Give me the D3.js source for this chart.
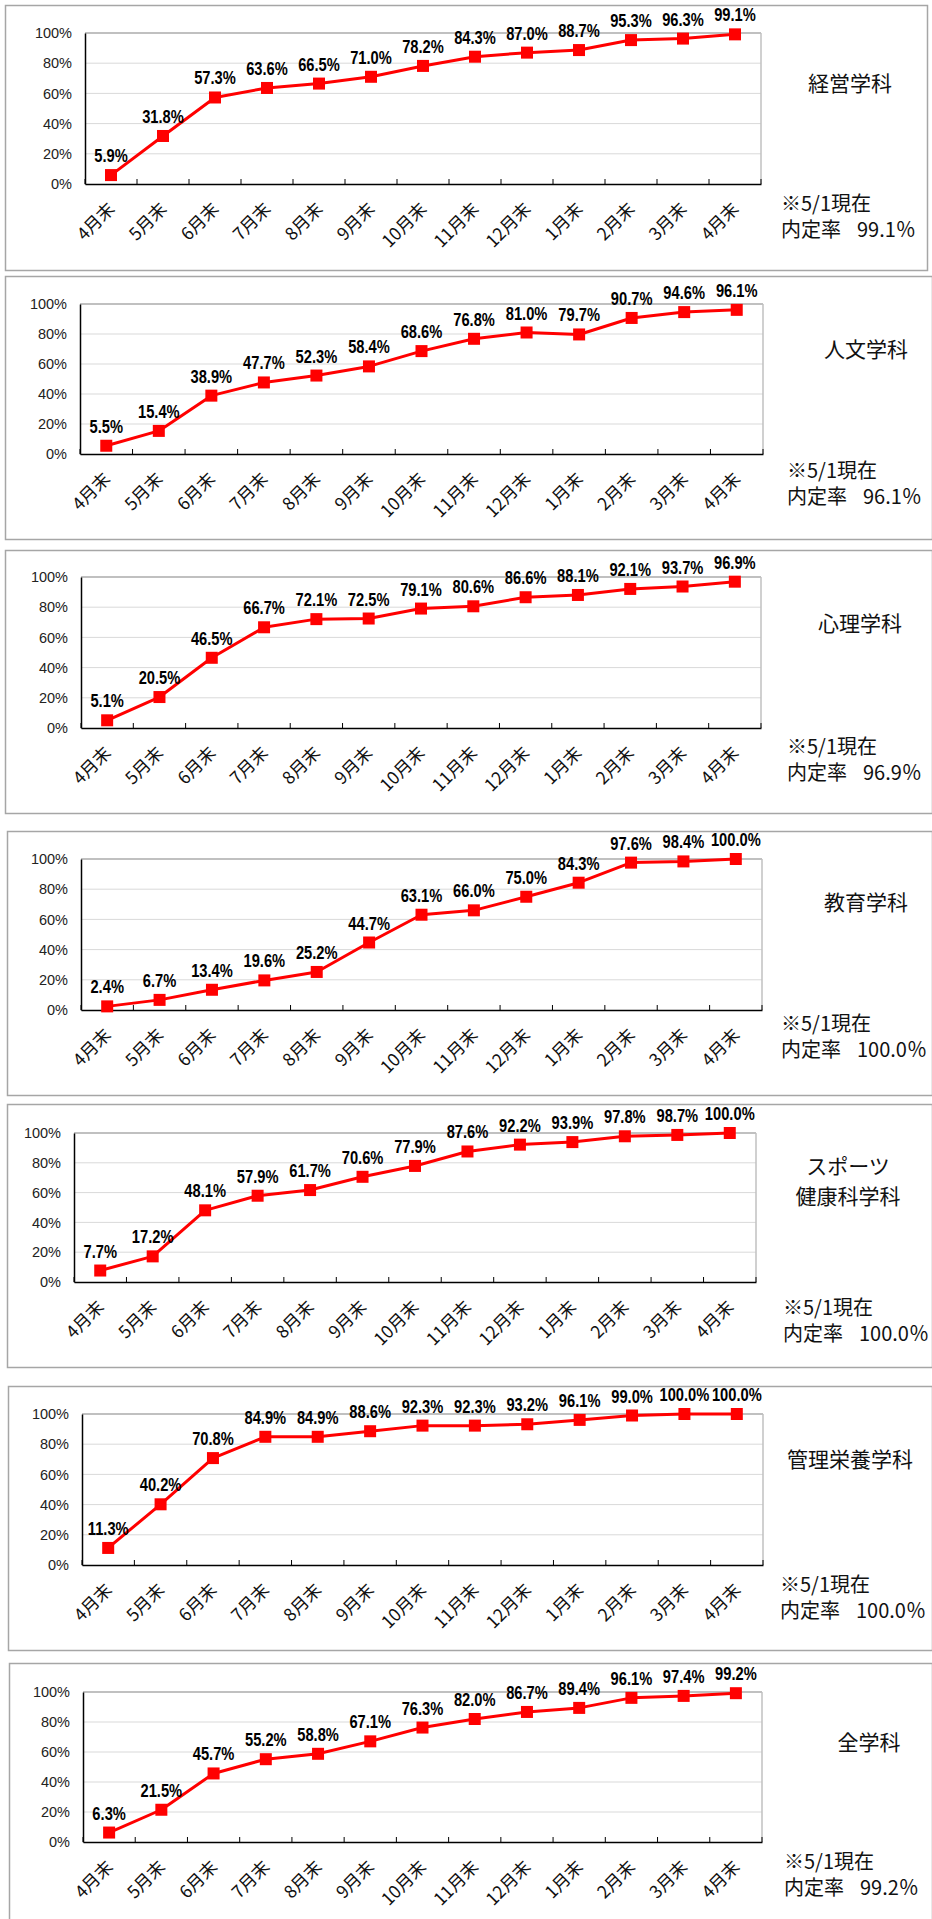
<!DOCTYPE html>
<html>
<head>
<meta charset="utf-8">
<script src="https://cdn.jsdelivr.net/npm/d3@7"></script>
<style>
  body { margin: 0; background: #fff; }
  svg { display: block; }
</style>
</head>
<body>
<svg id="chart" width="932" height="1919"></svg>
<script>
// month labels (x axis)
const months = ['4月末', '5月末', '6月末', '7月末', '8月末', '9月末', '10月末', '11月末', '12月末', '1月末', '2月末', '3月末', '4月末'];
const yTicks = [0, 20, 40, 60, 80, 100];

// department names (title lines)
const titles = [['経営学科'], ['人文学科'], ['心理学科'], ['教育学科'], ['スポーツ', '健康科学科'], ['管理栄養学科'], ['全学科']];

// 内定率 series per department (%)
const keiei   = [5.9, 31.8, 57.3, 63.6, 66.5, 71.0, 78.2, 84.3, 87.0, 88.7, 95.3, 96.3, 99.1];
const jinbun  = [5.5, 15.4, 38.9, 47.7, 52.3, 58.4, 68.6, 76.8, 81.0, 79.7, 90.7, 94.6, 96.1];
const shinri  = [5.1, 20.5, 46.5, 66.7, 72.1, 72.5, 79.1, 80.6, 86.6, 88.1, 92.1, 93.7, 96.9];
const kyoiku  = [2.4, 6.7, 13.4, 19.6, 25.2, 44.7, 63.1, 66.0, 75.0, 84.3, 97.6, 98.4, 100.0];
const sports  = [7.7, 17.2, 48.1, 57.9, 61.7, 70.6, 77.9, 87.6, 92.2, 93.9, 97.8, 98.7, 100.0];
const eiyo    = [11.3, 40.2, 70.8, 84.9, 84.9, 88.6, 92.3, 92.3, 93.2, 96.1, 99.0, 100.0, 100.0];
const zengaku = [6.3, 21.5, 45.7, 55.2, 58.8, 67.1, 76.3, 82.0, 86.7, 89.4, 96.1, 97.4, 99.2];
const series = [keiei, jinbun, shinri, kyoiku, sports, eiyo, zengaku];

// rate as of 5/1
const rates = ['99.1', '96.1', '96.9', '100.0', '100.0', '100.0', '99.2'];

// panel layout (boxes, plot areas, text spots)
const layout = [
  { x: 5, y: 5,    w: 922, h: 265, l: 85, r: 761, t: 33,   b: 184,  tx: 850, ty: 82,   nx: 781, ny: 202 },
  { x: 5, y: 276,  w: 927, h: 263, l: 80, r: 763, t: 304,  b: 454,  tx: 866, ty: 348,  nx: 787, ny: 469 },
  { x: 5, y: 550,  w: 927, h: 263, l: 81, r: 761, t: 577,  b: 728,  tx: 860, ty: 622,  nx: 787, ny: 745 },
  { x: 7, y: 831,  w: 925, h: 264, l: 81, r: 762, t: 859,  b: 1010, tx: 866, ty: 901,  nx: 781, ny: 1022 },
  { x: 7, y: 1104, w: 925, h: 263, l: 74, r: 756, t: 1133, b: 1282, tx: 848, ty: 1165, nx: 783, ny: 1306 },
  { x: 8, y: 1386, w: 924, h: 264, l: 82, r: 763, t: 1414, b: 1565, tx: 850, ty: 1458, nx: 780, ny: 1583 },
  { x: 9, y: 1663, w: 923, h: 262, l: 83, r: 762, t: 1692, b: 1842, tx: 869, ty: 1741, nx: 784, ny: 1860 }
];

const svg = d3.select('#chart');
const jpFont = '"Noto Sans CJK JP", "Noto Sans", sans-serif';
const numFont = '"Liberation Sans", Arial, sans-serif';

layout.forEach((p, i) => {
  const data = series[i];
  const g = svg.append('g');

  // panel frame
  g.append('rect')
    .attr('x', p.x + 0.5).attr('y', p.y + 0.5)
    .attr('width', p.w).attr('height', p.h)
    .attr('fill', 'none').attr('stroke', '#a6a6a6').attr('stroke-width', 1.5);

  const x = d3.scaleBand().domain(d3.range(months.length)).range([p.l, p.r]);
  const y = d3.scaleLinear().domain([0, 100]).range([p.b, p.t]);
  const cx = j => x(j) + x.bandwidth() / 2;

  // gridlines
  g.selectAll('.grid').data(yTicks.slice(1, -1)).enter().append('line')
    .attr('x1', p.l).attr('x2', p.r)
    .attr('y1', d => y(d)).attr('y2', d => y(d))
    .attr('stroke', '#d9d9d9').attr('stroke-width', 1);

  // plot area top / right edge
  g.append('line').attr('x1', p.l).attr('x2', p.r).attr('y1', p.t).attr('y2', p.t)
    .attr('stroke', '#c0c0c0').attr('stroke-width', 2);
  g.append('line').attr('x1', p.r).attr('x2', p.r).attr('y1', p.t).attr('y2', p.b)
    .attr('stroke', '#c0c0c0').attr('stroke-width', 1.5);

  // y axis
  const yAxis = g.append('g').attr('transform', `translate(${p.l},0)`)
    .call(d3.axisLeft(y).tickValues(yTicks).tickFormat(d => d + '%').tickSize(0).tickPadding(13));
  yAxis.select('.domain').attr('stroke', '#000').attr('stroke-width', 1.5);
  yAxis.selectAll('text')
    .attr('font-family', numFont)
    .attr('font-size', 14.5).attr('fill', '#222');

  // x axis with rotated month labels
  const xAxis = g.append('g').attr('transform', `translate(0,${p.b})`)
    .call(d3.axisBottom(x).tickFormat(j => months[j]).tickSize(0));
  xAxis.select('.domain').attr('stroke', '#000').attr('stroke-width', 1.5);
  xAxis.selectAll('text')
    .attr('font-family', jpFont).attr('font-size', 17.5).attr('fill', '#111')
    .attr('text-anchor', 'end').attr('dy', null).attr('y', 0).attr('x', 0)
    .attr('transform', 'translate(5,26) rotate(-45)');

  // small inward ticks at category boundaries
  g.selectAll('.xtick').data(d3.range(months.length + 1)).enter().append('line')
    .attr('x1', k => p.l + k * x.step()).attr('x2', k => p.l + k * x.step())
    .attr('y1', p.b).attr('y2', p.b - 5)
    .attr('stroke', '#000').attr('stroke-width', 1);

  // series line
  const line = d3.line().x((d, j) => cx(j)).y(d => y(d));
  g.append('path').datum(data)
    .attr('d', line).attr('fill', 'none')
    .attr('stroke', '#ff0000').attr('stroke-width', 3).attr('stroke-linejoin', 'round');

  // square markers
  g.selectAll('.mark').data(data).enter().append('rect')
    .attr('x', (d, j) => cx(j) - 6).attr('y', d => y(d) - 6)
    .attr('width', 12).attr('height', 12).attr('fill', '#ff0000');

  // value labels (bold, condensed)
  g.selectAll('.val').data(data).enter().append('text')
    .attr('transform', (d, j) => `translate(${cx(j)},${y(d) - 13}) scale(0.84,1)`)
    .attr('text-anchor', 'middle')
    .attr('font-family', numFont)
    .attr('font-weight', 'bold').attr('font-size', 17.5).attr('fill', '#000')
    .text(d => d.toFixed(1) + '%');

  // department name
  const lines = titles[i];
  g.selectAll('.title').data(lines).enter().append('text')
    .attr('x', p.tx).attr('y', (d, k) => p.ty + k * 30)
    .attr('text-anchor', 'middle').attr('dominant-baseline', 'central')
    .attr('font-family', jpFont).attr('font-size', 21).attr('fill', '#111')
    .text(d => d);

  // note: rate as of 5/1
  g.append('text')
    .attr('x', p.nx).attr('y', p.ny)
    .attr('dominant-baseline', 'central')
    .attr('font-family', jpFont).attr('font-size', 20).attr('fill', '#111')
    .text('※5/1現在');
  const rateText = g.append('text')
    .attr('x', p.nx).attr('y', p.ny + 26)
    .attr('dominant-baseline', 'central')
    .attr('font-family', jpFont).attr('font-size', 20).attr('fill', '#111');
  rateText.append('tspan').text('内定率');
  rateText.append('tspan').attr('dx', 16).text(rates[i] + '％');
});
</script>
</body>
</html>
